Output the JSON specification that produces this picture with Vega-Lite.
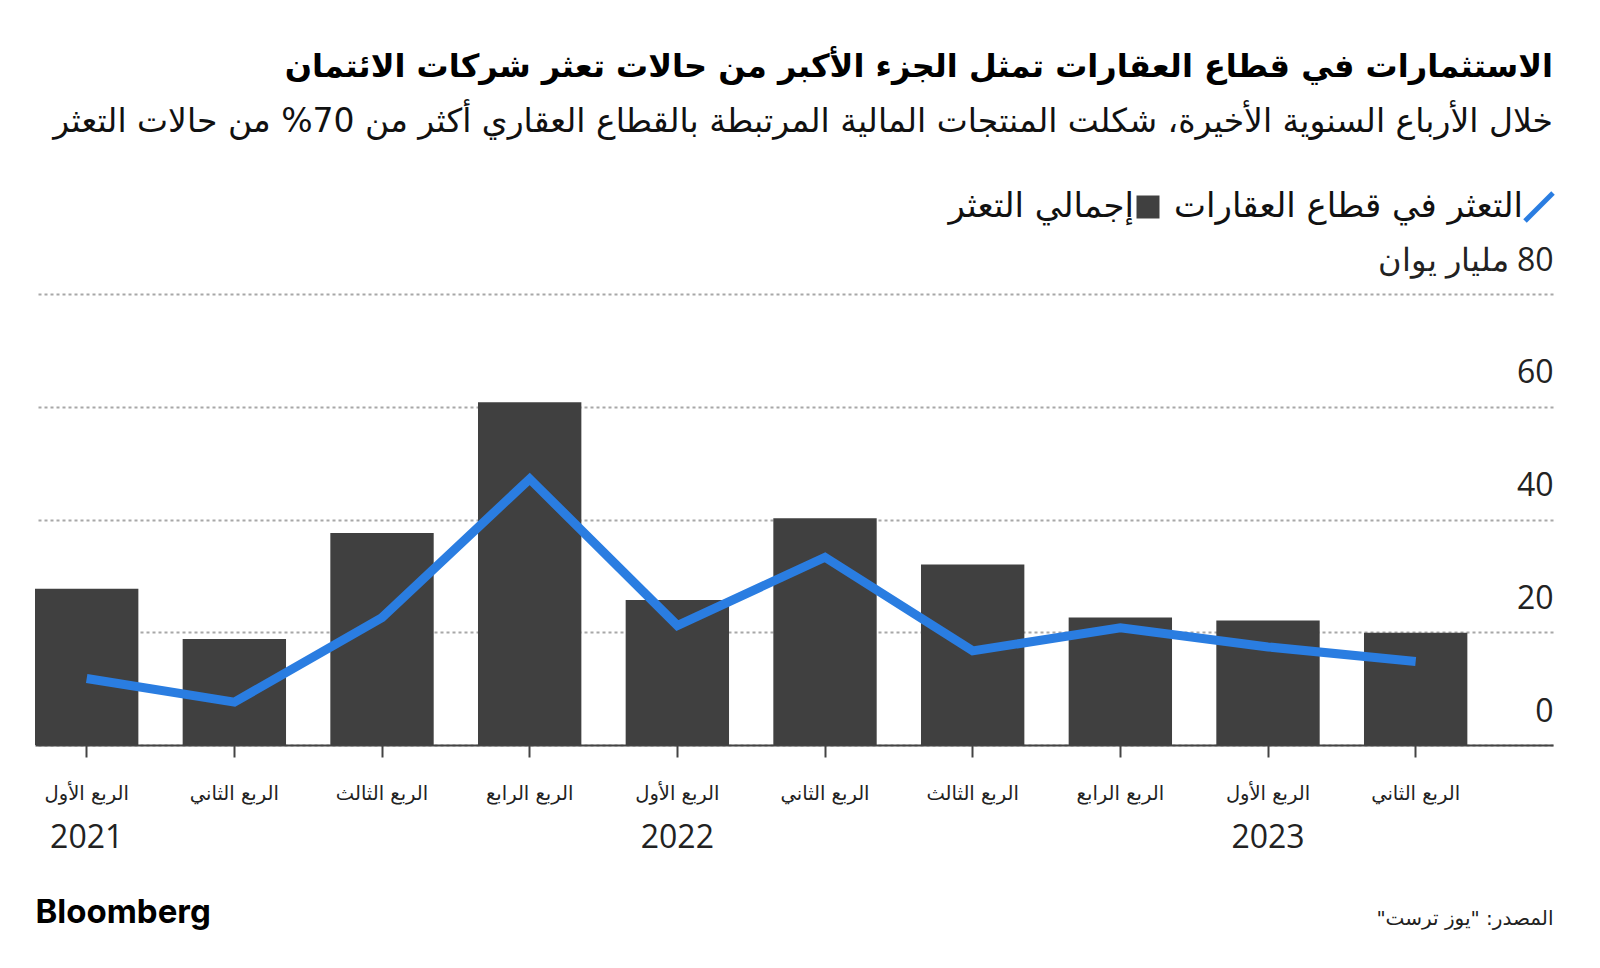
{
  "$schema": "https://vega.github.io/schema/vega-lite/v6.json",
  "width": 1518,
  "height": 451,
  "autosize": {"type": "none"},
  "padding": {"left": 35, "top": 294, "right": 47, "bottom": 223},
  "background": "white",
  "title": {
    "text": "الاستثمارات في قطاع العقارات تمثل الجزء الأكبر من حالات تعثر شركات الائتمان",
    "subtitle": "خلال الأرباع السنوية الأخيرة، شكلت المنتجات المالية المرتبطة بالقطاع العقاري أكثر من 70% من حالات التعثر",
    "anchor": "end",
    "frame": "group",
    "orient": "top",
    "font": "DejaVu Sans",
    "fontSize": 32,
    "fontWeight": "bold",
    "color": "#000000",
    "subtitleFont": "DejaVu Sans",
    "subtitleFontSize": 33,
    "subtitleColor": "#111111",
    "subtitlePadding": 22,
    "offset": 50
  },
  "data": {
    "values": [
      {"period": "2021 Q1", "total": 27.7, "realestate": 11.8},
      {"period": "2021 Q2", "total": 18.8, "realestate": 7.6},
      {"period": "2021 Q3", "total": 37.6, "realestate": 22.6},
      {"period": "2021 Q4", "total": 60.8, "realestate": 47.2},
      {"period": "2022 Q1", "total": 25.7, "realestate": 21.2},
      {"period": "2022 Q2", "total": 40.2, "realestate": 33.3},
      {"period": "2022 Q3", "total": 32.0, "realestate": 16.7},
      {"period": "2022 Q4", "total": 22.6, "realestate": 20.8},
      {"period": "2023 Q1", "total": 22.1, "realestate": 17.4},
      {"period": "2023 Q2", "total": 19.9, "realestate": 14.8}
    ]
  },
  "config": {"view": {"stroke": null}},
  "layer": [
    {
      "mark": {"type": "bar"},
      "encoding": {
        "x": {
          "field": "period",
          "type": "nominal",
          "scale": {"type": "band", "paddingInner": 0.3, "paddingOuter": 0.29, "align": 0},
          "axis": {
            "orient": "bottom",
            "title": null,
            "grid": false,
            "domain": true,
            "domainColor": "#444444",
            "domainWidth": 2,
            "ticks": true,
            "tickColor": "#444444",
            "tickWidth": 2,
            "tickSize": 12,
            "labelAngle": 0,
            "labelFont": "DejaVu Sans",
            "labelFontSize": 19.5,
            "labelColor": "#222222",
            "labelBaseline": "middle",
            "labelPadding": 36,
            "labelExpr": "slice(datum.label,5)=='Q1' ? 'الربع الأول' : slice(datum.label,5)=='Q2' ? 'الربع الثاني' : slice(datum.label,5)=='Q3' ? 'الربع الثالث' : 'الربع الرابع'"
          }
        },
        "y": {
          "field": "total",
          "type": "quantitative",
          "scale": {"domain": [0, 80], "nice": false},
          "axis": {
            "orient": "right",
            "values": [0, 20, 40, 60, 80],
            "grid": true,
            "gridDash": [3, 3],
            "gridColor": "#a8a8a8",
            "gridWidth": 2,
            "domain": false,
            "ticks": false,
            "tickSize": 0,
            "labelAlign": "right",
            "labelPadding": 0,
            "labelBaseline": "alphabetic",
            "labelOffset": -24,
            "labelFont": "Open Sans",
            "labelFontSize": 32,
            "labelColor": "#222222",
            "labelExpr": "datum.value == 80 ? '\u200F80 مليار يوان\u200F' : datum.label",
            "title": "\u200Fالمصدر: \"يوز ترست\"\u200F",
            "titleAngle": 0,
            "titleX": 0,
            "titleY": 624,
            "titleAlign": "right",
            "titleBaseline": "middle",
            "titleFont": "DejaVu Sans",
            "titleFontSize": 20,
            "titleFontWeight": "normal",
            "titleColor": "#222222"
          }
        },
        "color": {
          "datum": "إجمالي التعثر",
          "scale": {"range": ["#404040"]},
          "legend": {
            "orient": "none",
            "legendX": 1096,
            "legendY": -104,
            "title": null,
            "padding": 0,
            "symbolType": "square",
            "symbolSize": 529,
            "symbolStrokeWidth": 0,
            "labelAlign": "right",
            "labelOffset": -31,
            "labelLimit": 0,
            "labelFont": "DejaVu Sans",
            "labelFontSize": 34,
            "labelColor": "#111111"
          }
        }
      }
    },
    {
      "mark": {"type": "line", "strokeWidth": 9},
      "encoding": {
        "x": {
          "field": "period",
          "type": "nominal",
          "bandPosition": 0.5,
          "scale": {"type": "band", "paddingInner": 0.3, "paddingOuter": 0.29, "align": 0},
          "axis": {
            "orient": "bottom",
            "grid": false,
            "domain": false,
            "ticks": false,
            "tickSize": 0,
            "labelAngle": 0,
            "labelFont": "Open Sans",
            "labelFontSize": 32,
            "labelColor": "#222222",
            "labelBaseline": "middle",
            "labelPadding": 92,
            "labelExpr": "slice(datum.label,5)=='Q1' ? slice(datum.label,0,4) : ''",
            "title": "Bloomberg",
            "titleAnchor": "start",
            "titleAlign": "left",
            "titleFont": "Inter",
            "titleFontSize": 33,
            "titleFontWeight": "bold",
            "titleColor": "#000000",
            "titlePadding": 43
          }
        },
        "y": {"field": "realestate", "type": "quantitative", "axis": null},
        "stroke": {
          "datum": "التعثر في قطاع العقارات",
          "scale": {"range": ["#2a7de1"]},
          "legend": {
            "orient": "none",
            "legendX": 1487,
            "legendY": -104,
            "title": null,
            "padding": 0,
            "symbolType": "M-1,1L1,-1",
            "symbolSize": 784,
            "symbolStrokeWidth": 5,
            "labelAlign": "right",
            "labelOffset": -33,
            "labelLimit": 0,
            "labelFont": "DejaVu Sans",
            "labelFontSize": 34,
            "labelColor": "#111111"
          }
        }
      }
    }
  ],
  "resolve": {"scale": {"x": "independent"}, "axis": {"x": "independent", "y": "independent"}}
}
